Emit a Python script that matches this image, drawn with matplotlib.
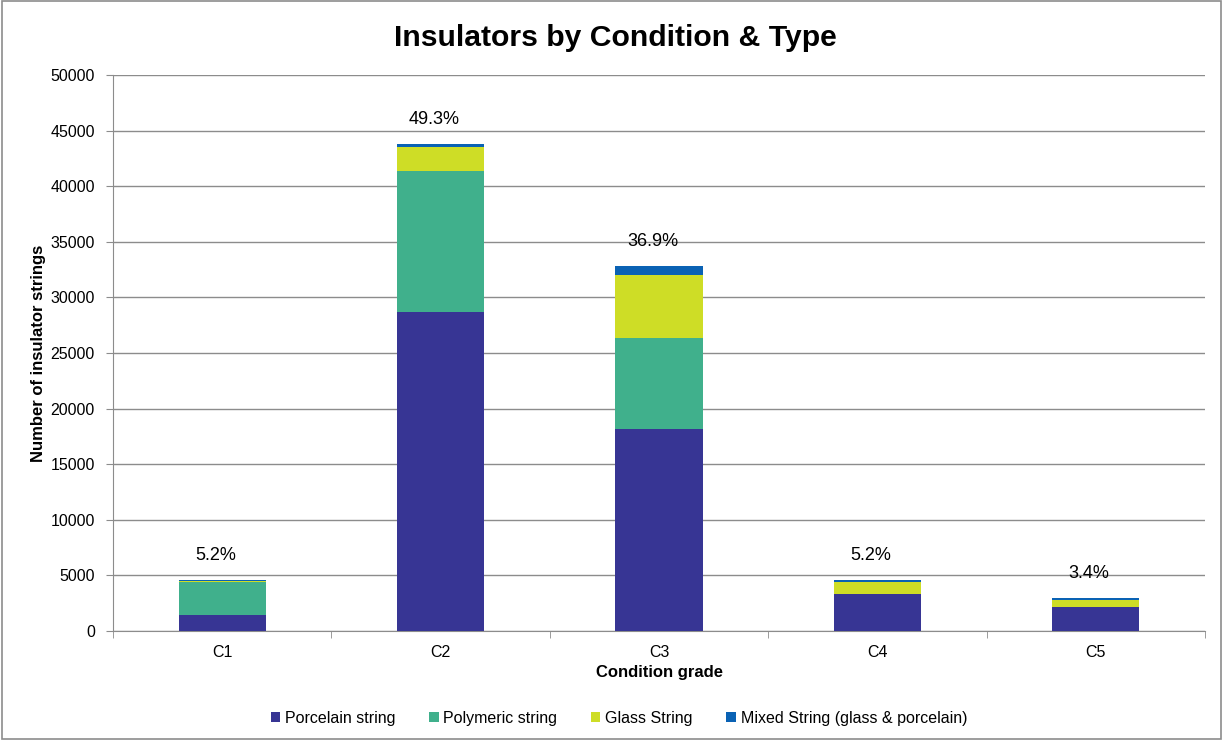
import matplotlib
matplotlib.use("Agg")
import matplotlib.pyplot as plt
import numpy as np

categories = ["C1", "C2", "C3", "C4", "C5"]
porcelain = [1450, 28700, 18200, 3300, 2130]
polymeric = [2970, 12700, 8150, 20, 10]
glass = [60, 2100, 5650, 1080, 660]
mixed = [120, 300, 800, 200, 200]
share_labels = ["5.2%", "49.3%", "36.9%", "5.2%", "3.4%"]

series = [
    ("Porcelain string", porcelain, "#373594"),
    ("Polymeric string", polymeric, "#40B08C"),
    ("Glass String", glass, "#CEDD26"),
    ("Mixed String (glass & porcelain)", mixed, "#0A62B4"),
]

plt.rcParams["font.family"] = ["Liberation Sans", "DejaVu Sans"]

fig = plt.figure(figsize=(12.23, 7.4), dpi=100)
ax = fig.add_axes([113 / 1223, 1 - 631 / 740, (1205 - 113) / 1223, (631 - 75) / 740])

x = np.arange(len(categories))
bottom = np.zeros(len(categories))
for name, vals, col in series:
    ax.bar(x, vals, width=0.4, bottom=bottom, color=col, label=name, zorder=3)
    bottom += np.array(vals)

for xi, tot, lab in zip(x, bottom, share_labels):
    ax.text(xi - 0.03, tot + 2200, lab, ha="center", va="center", fontsize=13, color="#000000", zorder=4)

ax.set_xlim(-0.5, len(categories) - 0.5)
ax.set_ylim(0, 50000)
ax.set_yticks(np.arange(0, 50001, 5000))
ax.yaxis.grid(True, color="#8C8C8C", linewidth=1, zorder=0)
ax.set_axisbelow(True)

ax.set_xticks(x)
ax.set_xticklabels(categories, fontsize=11.5)
ax.tick_params(axis="x", length=0, pad=10)
ax.set_xticks(np.arange(-0.5, len(categories)), minor=True)
ax.tick_params(axis="x", which="minor", length=5, color="#8C8C8C", direction="out")
ax.tick_params(axis="y", length=5, color="#8C8C8C", labelsize=11.5, pad=8)

for side in ["top", "right"]:
    ax.spines[side].set_visible(False)
for side in ["left", "bottom"]:
    ax.spines[side].set_color("#8C8C8C")

ax.set_ylabel("Number of insulator strings", fontsize=12, fontweight="bold", labelpad=3)
ax.set_xlabel("Condition grade", fontsize=12, fontweight="bold", labelpad=4)

fig.text(0.503, 1 - 38 / 740, "Insulators by Condition & Type", ha="center", va="center",
         fontsize=21.7, fontweight="bold")

fig.legend(loc="center", bbox_to_anchor=(0.506, 1 - 718 / 740), ncol=4, frameon=False,
           fontsize=11.5, handlelength=0.6, handleheight=0.6, handletextpad=0.3, columnspacing=2.1)

border = plt.Rectangle((0.002, 0.002), 0.996, 0.996, transform=fig.transFigure, fill=False,
                       edgecolor="#8C8C8C", linewidth=1.2)
fig.patches.append(border)

fig.savefig("out.png", dpi=100)
